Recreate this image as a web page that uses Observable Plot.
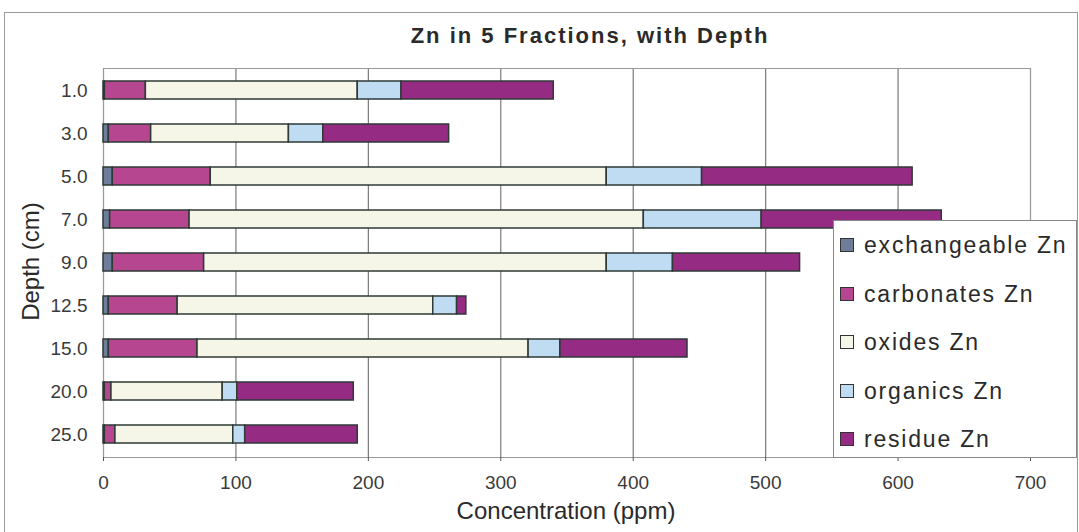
<!DOCTYPE html>
<html><head><meta charset="utf-8">
<script src="https://cdn.jsdelivr.net/npm/d3@7"></script>
<script src="https://cdn.jsdelivr.net/npm/@observablehq/plot@0.6"></script>
<style>
body{margin:0;background:#fff;font-family:"Liberation Sans",Arial,sans-serif;}
#wrap{position:relative;width:1079px;height:532px;overflow:hidden;}
#border{position:absolute;left:4px;top:12px;width:1074px;height:530px;border:1.5px solid #9a9a9a;box-sizing:border-box;}
#title{position:absolute;left:340px;width:500px;top:25px;line-height:22px;text-align:center;font-weight:bold;font-size:22px;letter-spacing:2px;color:#2a2a2a;}
#xlabel{position:absolute;left:316px;width:500px;top:499px;line-height:24px;text-align:center;font-size:24px;color:#2a2a2a;}
#ylabel{position:absolute;left:-70px;top:249px;width:200px;height:25px;line-height:25px;text-align:center;font-size:24px;color:#2a2a2a;transform:rotate(-90deg);}
#legend{position:absolute;left:833px;top:220px;width:244px;height:238px;border:1.5px solid #888;background:#fff;box-sizing:border-box;}
.li{position:absolute;left:6px;height:24px;line-height:24px;font-size:23px;letter-spacing:1.8px;color:#2a2a2a;display:flex;align-items:center;white-space:nowrap;}
.sw{width:12px;height:12px;border:1.5px solid #333;margin-right:10px;flex:none;}
#chart{position:absolute;left:0;top:0;}
</style></head>
<body><div id="wrap"><div id="border"></div><div id="chart"></div><div id="title">Zn in 5 Fractions, with Depth</div><div id="xlabel">Concentration (ppm)</div><div id="ylabel">Depth (cm)</div><div id="legend"></div></div>
<script>
const depths = ["1.0","3.0","5.0","7.0","9.0","12.5","15.0","20.0","25.0"];
const fractions = ["exchangeable Zn","carbonates Zn","oxides Zn","organics Zn","residue Zn"];
const colors = ["#6e7d99","#b5468f","#f6f6e8","#bfdcf3","#962b84"];
const exchangeable = [1,4,7,5,7,4,4,1,1];
const carbonates = [31,32,74,60,69,52,67,5,8];
const oxides = [160,104,299,343,304,193,250,84,89];
const organics = [33,26,72,89,50,18,24,11,9];
const residue = [115,95,159,136,96,7,96,88,85];
const xTicks = [0,100,200,300,400,500,600,700];

const series = [exchangeable,carbonates,oxides,organics,residue];
const data = [];
depths.forEach((d,i)=>fractions.forEach((f,j)=>data.push({depth:d,fraction:f,value:series[j][i]})));

const chart = Plot.plot({
  width:1079, height:532,
  marginLeft:103, marginRight:49, marginTop:68, marginBottom:75,
  style:{fontFamily:"Liberation Sans, Arial, sans-serif",color:"#3a3a3a",background:"transparent"},
  x:{domain:[0,700]},
  y:{domain:depths,paddingInner:0.58,paddingOuter:0.29},
  color:{domain:fractions,range:colors},
  marks:[
    Plot.gridX(xTicks,{stroke:"#7a7a7a",strokeOpacity:1,strokeWidth:1.2}),
    Plot.frame({stroke:"#9a9a9a"}),
    Plot.barX(data,Plot.stackX({x:"value",y:"depth",fill:"fraction",order:fractions,stroke:"#2f3a36",strokeWidth:1.5})),
    Plot.ruleY([0],{frameAnchor:"bottom",stroke:"#555",strokeWidth:1.5}),
    Plot.axisX({ticks:xTicks,tickSize:4,tickPadding:14,label:null,fontSize:19,stroke:"#555"}),
    Plot.axisY({tickSize:0,tickPadding:16,label:null,fontSize:19})
  ]
});
document.getElementById("chart").appendChild(chart);

const lg = document.getElementById("legend");
fractions.forEach((f,j)=>{
  const el=document.createElement("div");el.className="li";el.style.top=(12+j*48.5)+"px";
  el.innerHTML=`<span class="sw" style="background:${colors[j]}"></span>${f}`;
  lg.appendChild(el);
});
</script></body></html>
